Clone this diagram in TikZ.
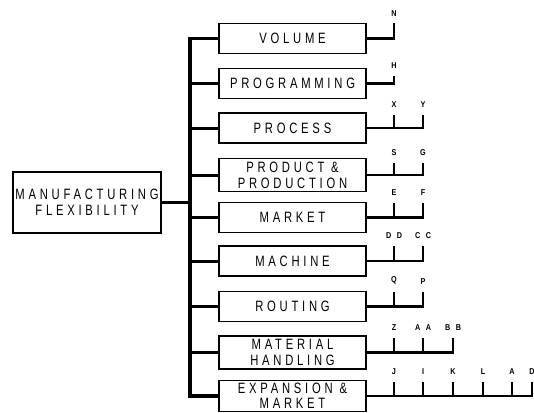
\documentclass[tikz,border=0pt]{standalone}
\usepackage{fontspec}
\newfontfamily\boxfont[FakeStretch=0.75,LetterSpace=25]{Liberation Sans}
\newfontfamily\tagfont[FakeStretch=0.85,LetterSpace=65]{Liberation Sans}

\begin{document}
\begin{tikzpicture}[x=1pt,y=-1pt]
\tikzset{
  factorbox/.style={draw,line width=1.6pt,minimum width=147pt,minimum height=30pt,inner xsep=2pt,inner ysep=3pt,align=center,font=\boxfont\fontsize{15}{16}\selectfont},
  trunk/.style={line width=3.5pt},
  branch/.style={line width=3pt},
  link/.style={line width=2.6pt},
  tag/.style={above=6pt,inner sep=0pt,font=\tagfont\bfseries\fontsize{8.5}{9}\selectfont}
}
\clip (0,0) rectangle (534,412);
\node[factorbox,minimum width=148pt,minimum height=61pt] (mfg) at (87,202.5) {MANUFACTURING\\FLEXIBILITY};
\node[factorbox] (volume) at (292.5,38.5) {VOLUME};
\node[factorbox] (programming) at (292.5,83.5) {PROGRAMMING};
\node[factorbox] (process) at (292.5,128) {PROCESS};
\node[factorbox] (product) at (292.5,175) {PRODUCT \&\\PRODUCTION};
\node[factorbox] (market) at (292.5,217.5) {MARKET};
\node[factorbox] (machine) at (292.5,261) {MACHINE};
\node[factorbox] (routing) at (292.5,306.5) {ROUTING};
\node[factorbox] (material) at (292.5,352.5) {MATERIAL\\HANDLING};
\node[factorbox,font=\boxfont\fontsize{15}{14.5}\selectfont] (expansion) at (292.5,396) {EXPANSION \&\\MARKET};
\coordinate (trunk) at (190,0);
\coordinate (c1) at (394,0);
\coordinate (c2) at (423,0);
\coordinate (c3) at (453,0);
\coordinate (c4) at (483,0);
\coordinate (c5) at (512,0);
\coordinate (c6) at (532,0);
% tree on the left
\draw[trunk] (volume.west) -| (expansion.west -| trunk) -- (expansion.west);
\draw[branch] (mfg.east) -- (mfg.east -| trunk);
\foreach \b in {programming,process,product,market,machine,routing,material}
  \draw[branch] (\b.west -| trunk) -- (\b.west);
% ticks on the right
\draw[link] (volume.east) -- (volume.east -| c1) -- ++(0,-15) node[tag] (tagN) {N};
\draw[link] (programming.east) -- (programming.east -| c1) -- ++(0,-8) node[tag] (tagH) {H};
\draw[link] (process.east) -- (process.east -| c2) -- ++(0,-13) node[tag] (tagY) {Y};
\draw[link] (process.east -| c1) -- ++(0,-13) node[tag] (tagX) {X};
\draw[link] (product.east) -- (product.east -| c2) -- ++(0,-12) node[tag] (tagG) {G};
\draw[link] (product.east -| c1) -- ++(0,-12) node[tag] (tagS) {S};
\draw[link] (market.east) -- (market.east -| c2) -- ++(0,-15) node[tag] (tagF) {F};
\draw[link] (market.east -| c1) -- ++(0,-15) node[tag] (tagE) {E};
\draw[link] (machine.east) -- (machine.east -| c2) -- ++(0,-15) node[tag] (tagCC) {CC};
\draw[link] (machine.east -| c1) -- ++(0,-15) node[tag] (tagDD) {DD};
\draw[link] (routing.east) -- (routing.east -| c2) -- ++(0,-15) node[tag] (tagP) {P};
\draw[link] (routing.east -| c1) -- ++(0,-15) node[tag] (tagQ) {Q};
\draw[link] (material.east) -- (material.east -| c3) -- ++(0,-15) node[tag] (tagBB) {BB};
\foreach \c/\t in {c1/Z,c2/AA}
  \draw[link] (material.east -| \c) -- ++(0,-15) node[tag] (tag\t) {\t};
\draw[link] (expansion.east) -- (expansion.east -| c6) -- ++(0,-14) node[tag] (tagD) {D};
\foreach \c/\t in {c1/J,c2/I,c3/K,c4/L,c5/A}
  \draw[link] (expansion.east -| \c) -- ++(0,-14) node[tag] (tag\t) {\t};
\end{tikzpicture}
\end{document}
